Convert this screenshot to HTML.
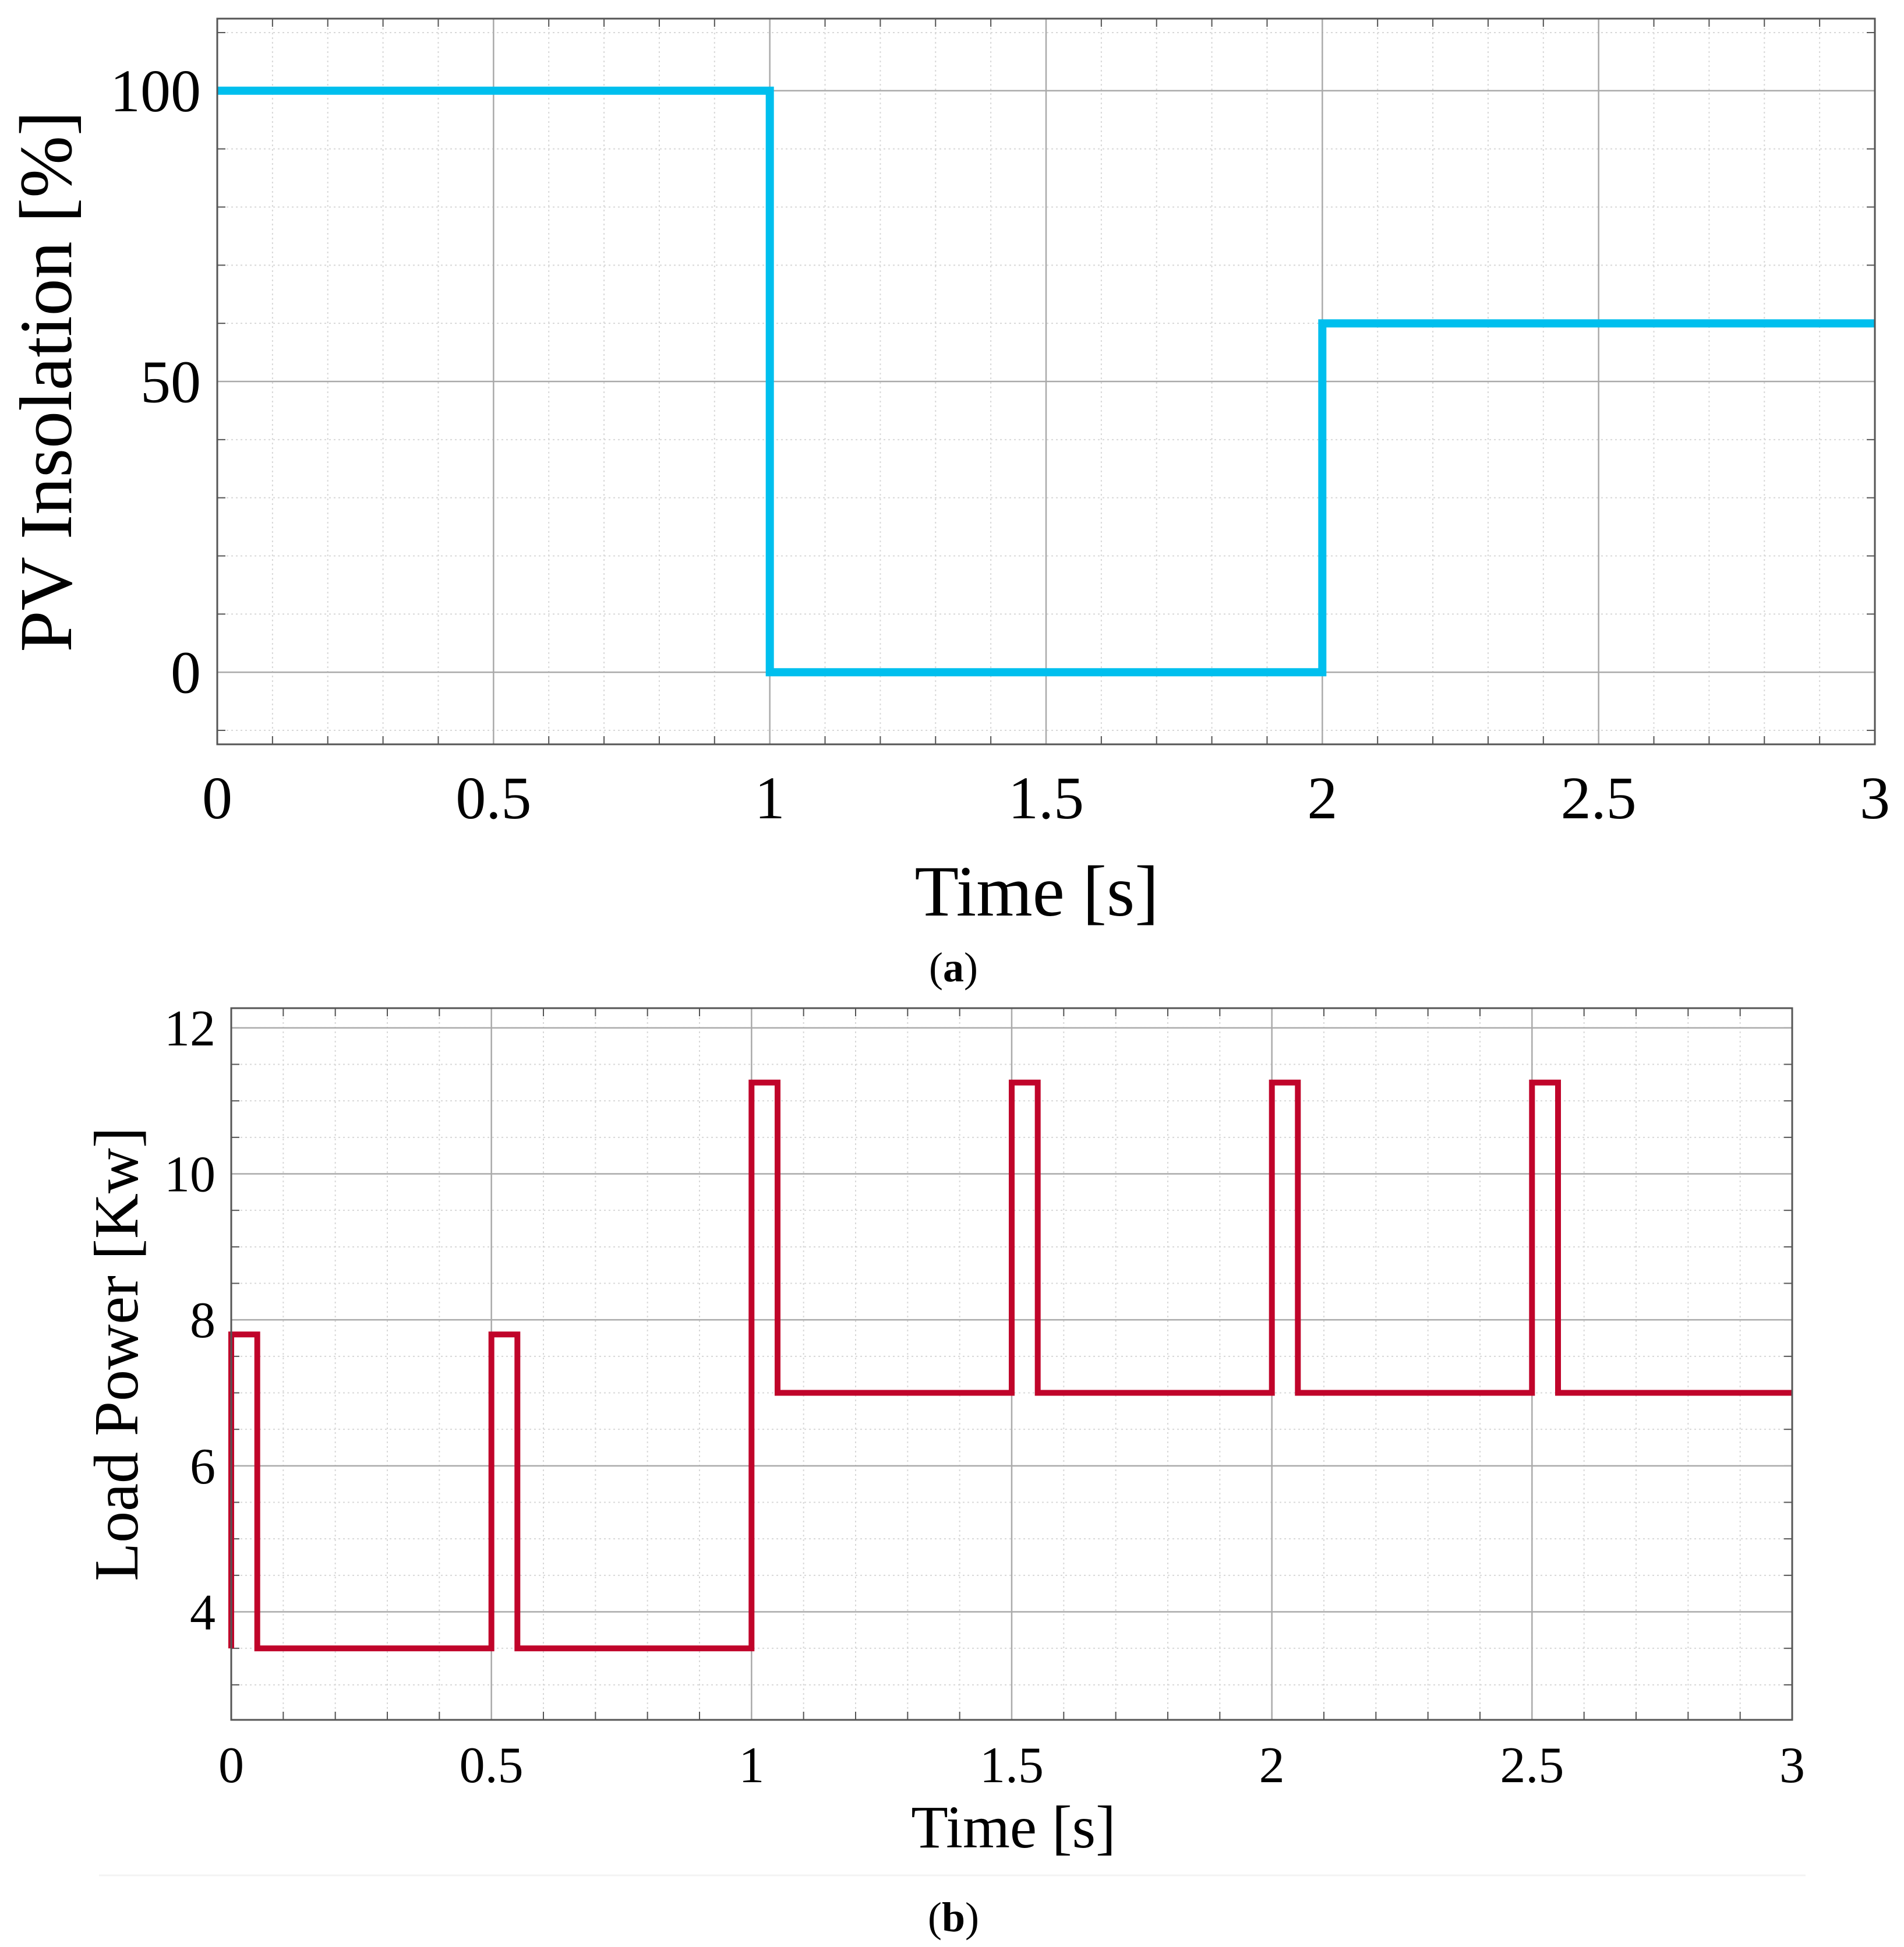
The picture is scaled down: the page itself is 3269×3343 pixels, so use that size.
<!DOCTYPE html>
<html><head><meta charset="utf-8"><style>
html,body{margin:0;padding:0;background:#fff;}
svg{display:block;font-family:"Liberation Serif",serif;}
</style></head><body>
<svg id="fig" width="3269" height="3343" viewBox="0 0 3269 3343" xmlns="http://www.w3.org/2000/svg">
<rect width="3269" height="3343" fill="#fff"/>
<g id="pa"></g>
<g id="pb"></g>
<line x1="170" y1="3220" x2="3100" y2="3220" stroke="#f3f3f3" stroke-width="3"/>
<text x="1637" y="1685" font-size="72" text-anchor="middle">(<tspan font-weight="bold">a</tspan>)</text>
<text x="1637" y="3316" font-size="72" text-anchor="middle">(<tspan font-weight="bold">b</tspan>)</text>
</svg>
<script>
// Chart (a) data
const pvTimes = [0, 1, 1, 2, 2, 3];
const pvValues = [100, 100, 0, 0, 60, 60];
const pvXTicks = [0, 0.5, 1, 1.5, 2, 2.5, 3];
const pvXTickLabels = ["0", "0.5", "1", "1.5", "2", "2.5", "3"];
const pvYTicks = [0, 50, 100];
const pvYTickLabels = ["0", "50", "100"];
// Chart (b) data
const loadTimes = [0, 0, 0.05, 0.05, 0.5, 0.5, 0.55, 0.55, 1.0, 1.0, 1.05, 1.05, 1.5, 1.5, 1.55, 1.55, 2.0, 2.0, 2.05, 2.05, 2.5, 2.5, 2.55, 2.55, 3.0];
const loadValues = [3.5, 7.8, 7.8, 3.5, 3.5, 7.8, 7.8, 3.5, 3.5, 11.25, 11.25, 7.0, 7.0, 11.25, 11.25, 7.0, 7.0, 11.25, 11.25, 7.0, 7.0, 11.25, 11.25, 7.0, 7.0];
const loadXTicks = [0, 0.5, 1, 1.5, 2, 2.5, 3];
const loadXTickLabels = ["0", "0.5", "1", "1.5", "2", "2.5", "3"];
const loadYTicks = [4, 6, 8, 10, 12];
const loadYTickLabels = ["4", "6", "8", "10", "12"];

const NS = "http://www.w3.org/2000/svg";
function mk(parent, tag, attrs, text) {
  const e = document.createElementNS(NS, tag);
  for (const k in attrs) e.setAttribute(k, attrs[k]);
  if (text !== undefined) e.textContent = text;
  parent.appendChild(e);
  return e;
}

function chart(g, cfg) {
  const sx = v => cfg.L + (v - cfg.x0) / (cfg.x1 - cfg.x0) * (cfg.R - cfg.L);
  const sy = v => cfg.B - (v - cfg.y0) / (cfg.y1 - cfg.y0) * (cfg.B - cfg.T);
  for (let v = cfg.x0; v <= cfg.x1 + 1e-9; v += cfg.xMinor) {
    const l = mk(g, 'line', {x1: sx(v), x2: sx(v), y1: cfg.T, y2: cfg.B, stroke: '#d8d8d8', 'stroke-width': 2, 'stroke-dasharray': '3 5'});
    
    
    const t1 = mk(g, 'line', {x1: sx(v), x2: sx(v), y1: cfg.B, y2: cfg.B - 14, stroke: '#555', 'stroke-width': 2});
    
    
    const t2 = mk(g, 'line', {x1: sx(v), x2: sx(v), y1: cfg.T, y2: cfg.T + 14, stroke: '#555', 'stroke-width': 2});
    
    
  }
  const yStart = Math.ceil(cfg.y0 / cfg.yMinor) * cfg.yMinor;
  for (let v = yStart; v <= cfg.y1 + 1e-9; v += cfg.yMinor) {
    const l = mk(g, 'line', {x1: cfg.L, x2: cfg.R, y1: sy(v), y2: sy(v), stroke: '#d8d8d8', 'stroke-width': 2, 'stroke-dasharray': '3 5'});
    
    
    const t1 = mk(g, 'line', {x1: cfg.L, x2: cfg.L + 14, y1: sy(v), y2: sy(v), stroke: '#555', 'stroke-width': 2});
    
    
    const t2 = mk(g, 'line', {x1: cfg.R, x2: cfg.R - 14, y1: sy(v), y2: sy(v), stroke: '#555', 'stroke-width': 2});
    
    
  }
  cfg.xTicks.forEach((v, i) => {
    const l = mk(g, 'line', {x1: sx(v), x2: sx(v), y1: cfg.T, y2: cfg.B, stroke: '#aaa', 'stroke-width': 2.5});
    
    
    const t = mk(g, 'text', {x: sx(v), y: cfg.xLabY, 'font-size': cfg.tickFs, 'text-anchor': 'middle'}, cfg.xLabels[i]);
    
    
  });
  cfg.yTicks.forEach((v, i) => {
    const l = mk(g, 'line', {x1: cfg.L, x2: cfg.R, y1: sy(v), y2: sy(v), stroke: '#aaa', 'stroke-width': 2.5});
    
    
    const t = mk(g, 'text', {x: cfg.yLabX, y: sy(v) + cfg.tickFs * 0.34, 'font-size': cfg.tickFs, 'text-anchor': 'end'}, cfg.yLabels[i]);
    
    
  });
  let d = '';
  cfg.xs.forEach((x, i) => { d += (i ? 'L' : 'M') + sx(x).toFixed(1) + ' ' + sy(cfg.ys[i]).toFixed(1); });
  const p = mk(g, 'path', {d: d, fill: 'none', stroke: cfg.color, 'stroke-width': cfg.lw, 'stroke-linejoin': 'miter'});
  
  
  const f = mk(g, 'rect', {x: cfg.L, y: cfg.T, width: cfg.R - cfg.L, height: cfg.B - cfg.T, fill: 'none', stroke: '#555', 'stroke-width': 3});
  
  
  const xt = mk(g, 'text', {x: cfg.xTitleX, y: cfg.xTitleY, 'font-size': cfg.xTitleFs, 'text-anchor': 'middle'}, 'Time [s]');
  
  
  const yt = mk(g, 'text', {x: 0, y: 0, 'font-size': cfg.yTitleFs, 'text-anchor': 'middle', transform: `translate(${cfg.yTitleX},${cfg.yTitleY}) rotate(-90)`}, cfg.yTitle);
  
  
}

chart(document.getElementById('pa'), {
  L: 373, R: 3219, T: 32, B: 1278, x0: 0, x1: 3, y0: -12.4, y1: 112.4,
  xMinor: 0.1, yMinor: 10,
  xTicks: pvXTicks, xLabels: pvXTickLabels, yTicks: pvYTicks, yLabels: pvYTickLabels,
  xs: pvTimes, ys: pvValues, color: '#00BFEE', lw: 14, seriesName: 'pv-insolation-line',
  tickFs: 104, xLabY: 1405, yLabX: 345,
  xTitleX: 1780, xTitleY: 1572, xTitleFs: 124,
  yTitle: 'PV Insolation [%]', yTitleX: 122, yTitleY: 655, yTitleFs: 128
});
chart(document.getElementById('pb'), {
  L: 397, R: 3077, T: 1731, B: 2953, x0: 0, x1: 3, y0: 2.52, y1: 12.27,
  xMinor: 0.1, yMinor: 0.5,
  xTicks: loadXTicks, xLabels: loadXTickLabels, yTicks: loadYTicks, yLabels: loadYTickLabels,
  xs: loadTimes, ys: loadValues, color: '#C0042A', lw: 10, seriesName: 'load-power-line',
  tickFs: 88, xLabY: 3060, yLabX: 370,
  xTitleX: 1740, xTitleY: 3172, xTitleFs: 104,
  yTitle: 'Load Power [Kw]', yTitleX: 236, yTitleY: 2325, yTitleFs: 108
});
</script>
</body></html>
